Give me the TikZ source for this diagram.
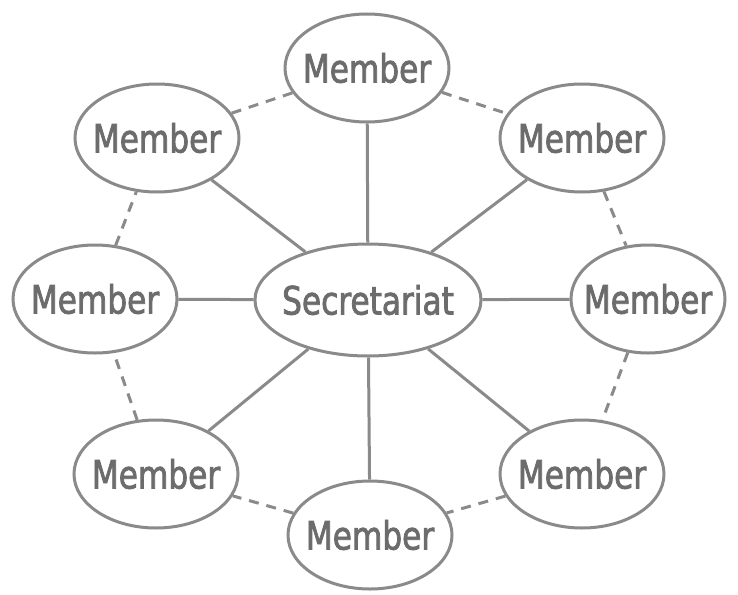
\documentclass[tikz,border=0pt]{standalone}
\usepackage{fontspec}
\newfontfamily\dinfont[FakeStretch=0.8,FakeBold=2]{DejaVu Sans}
\usetikzlibrary{shapes.geometric}
\definecolor{linegray}{HTML}{8A8A8A}
\definecolor{textgray}{HTML}{6C6C6C}
\tikzset{
  member/.style={ellipse, draw=linegray, line width=3pt, fill=white,
    minimum width=164pt, minimum height=108pt, inner sep=-10pt,
    text=textgray, font=\dinfont\fontsize{39}{44}\selectfont},
  hub/.style={member, minimum width=226pt, minimum height=112pt},
  spoke/.style={draw=linegray, line width=3pt},
  ring/.style={draw=linegray, line width=3pt, dash pattern=on 10pt off 8pt}
}
\begin{document}
\begin{tikzpicture}[x=1pt,y=-1pt]
\useasboundingbox (0,0) rectangle (738,594);
\fill[white] (0,0) rectangle (738,594);
\node[hub] (sec) at (368,300) {Secretariat};
\node[member] (m1) at (367,68) {Member};
\node[member] (m2) at (582,138) {Member};
\node[member, minimum width=154pt] (m3) at (648,299) {Member};
\node[member] (m4) at (582,474) {Member};
\node[member] (m5) at (370,535) {Member};
\node[member] (m6) at (156,474) {Member};
\node[member] (m7) at (95,299) {Member};
\node[member] (m8) at (157,138) {Member};
\foreach \m in {m1,m2,m3,m4,m5,m6,m7,m8}
  \draw[spoke] (sec) -- (\m);
\draw[ring] (m1) -- (m2);
\draw[ring] (m2) -- (m3);
\draw[ring] (m3) -- (m4);
\draw[ring] (m4) -- (m5);
\draw[ring] (m5) -- (m6);
\draw[ring] (m6) -- (m7);
\draw[ring] (m7) -- (m8);
\draw[ring] (m8) -- (m1);
\end{tikzpicture}
\end{document}
